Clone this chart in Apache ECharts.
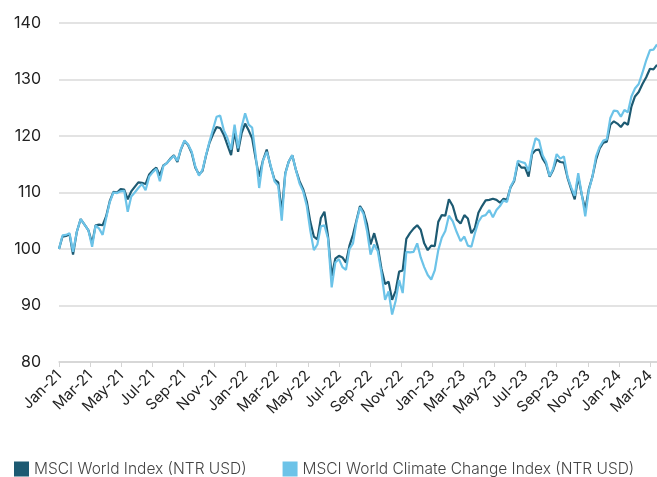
<!DOCTYPE html>
<html>
<head>
<meta charset="utf-8">
<script src="https://cdn.jsdelivr.net/npm/echarts@6/dist/echarts.min.js"></script>
<style>
  html, body { margin: 0; padding: 0; background: #fff; }
  #chart { width: 657px; height: 477px; }
</style>
</head>
<body>
<div id="chart"></div>
<script>
// weekly observations, first one on 2021-01-01
const firstWeek = '2021-01-01';

const tickLabels = ['Jan-21', 'Mar-21', 'May-21', 'Jul-21', 'Sep-21', 'Nov-21',
  'Jan-22', 'Mar-22', 'May-22', 'Jul-22', 'Sep-22', 'Nov-22',
  'Jan-23', 'Mar-23', 'May-23', 'Jul-23', 'Sep-23', 'Nov-23',
  'Jan-24', 'Mar-24'];

const seriesNames = ['MSCI World Index (NTR USD)', 'MSCI World Climate Change Index (NTR USD)'];

const worldIndex = [
  100, 102.2, 102.3, 102.6, 99.0, 103.0, 105.3, 104.3, 103.3, 101.0,
  104.2, 104.3, 104.2, 105.8, 108.5, 110.1, 110.0, 110.6, 110.5, 108.8,
  110.2, 111.0, 111.8, 111.7, 111.5, 113.2, 113.9, 114.4, 113.0, 114.8,
  115.2, 116.0, 116.6, 115.4, 117.6, 119.1, 118.4, 117.0, 114.4, 113.2,
  113.8, 116.5, 118.8, 120.3, 121.6, 121.4, 120.2, 118.4, 116.6, 120.8,
  117.2, 120.5, 122.2, 121.0, 119.6, 116.0, 112.8, 115.6, 117.6, 114.6,
  112.3, 111.8, 106.5, 113.4, 115.5, 116.6, 114.0, 112.0, 110.6, 108.4,
  104.8, 102.2, 101.7, 105.5, 106.6, 102.2, 95.2, 98.3, 98.8, 98.5,
  97.6, 100.6, 102.5, 105.1, 107.6, 106.6, 104.4, 100.8, 102.8, 100.4,
  96.5, 93.8, 94.2, 91.0, 92.6, 96.0, 96.2, 101.8, 102.8, 103.6,
  104.2, 103.4, 101.0, 99.8, 100.6, 100.5, 104.8, 106.0, 105.9, 108.8,
  107.6, 105.2, 104.5, 106.0, 105.4, 102.8, 103.7, 106.4, 107.6, 108.6,
  108.7, 108.9, 108.7, 108.2, 108.9, 108.7, 110.9, 112.0, 115.2, 114.4,
  114.4, 112.8, 116.8, 117.5, 117.6, 116.0, 115.0, 112.8, 114.0, 115.8,
  115.4, 115.3, 112.6, 110.6, 108.8, 112.8, 109.6, 107.0, 110.6, 112.8,
  115.8, 117.8, 118.8, 119.0, 122.0, 122.6, 122.2, 121.6, 122.4, 122.0,
  125.2, 127.0, 127.8, 129.2, 130.4, 131.9, 131.8, 132.6
];

const climateIndex = [
  100, 102.4, 102.5, 102.8, 99.5, 103.0, 105.3, 104.3, 103.3, 100.4,
  104.2, 103.6, 102.5, 105.5, 108.3, 110.0, 109.9, 110.2, 110.3, 106.6,
  109.3, 110.0, 110.8, 111.5, 110.4, 112.8, 113.6, 114.2, 112.0, 114.7,
  115.2, 115.9, 116.5, 115.6, 117.7, 119.2, 118.5, 117.2, 114.6, 113.0,
  114.0, 116.6, 119.0, 121.2, 123.4, 123.6, 121.0, 119.6, 117.6, 122.0,
  117.8, 121.6, 124.0, 122.0, 121.5, 116.6, 110.8, 115.6, 117.2, 114.8,
  112.0, 111.2, 105.0, 113.3, 115.5, 116.6, 114.0, 111.6, 110.2, 107.6,
  103.2, 99.8, 100.8, 104.0, 104.2, 101.8, 93.2, 97.6, 98.2, 96.8,
  96.3, 100.0, 101.0, 104.8, 107.4, 106.2, 103.2, 99.0, 100.8, 99.6,
  95.8, 91.0, 92.5, 88.4, 90.8, 94.5, 92.2, 99.5, 99.4, 99.5,
  101.0, 98.5, 96.8, 95.4, 94.6, 96.2, 99.8, 102.0, 103.2, 105.9,
  104.9, 103.0, 101.4, 102.2, 100.6, 100.4, 102.8, 104.8, 105.8, 106.0,
  106.9, 105.6, 106.9, 107.6, 108.6, 108.3, 111.0, 112.2, 115.6, 115.4,
  115.2, 113.8, 117.2, 119.6, 119.2, 116.6, 115.4, 112.9, 114.2, 116.8,
  116.0, 116.4, 112.8, 110.9, 109.4, 113.4, 109.7, 105.8, 110.4, 112.8,
  116.4, 118.1, 119.2, 119.4, 123.2, 124.5, 124.4, 123.4, 124.6, 124.2,
  127.0, 128.4, 129.2, 131.2, 133.4, 135.2, 135.3, 136.2
];

// date -> months since Jan 2021 (fractional), used as x value
function monthPos(d) {
  const y = d.getUTCFullYear(), m = d.getUTCMonth();
  const days = new Date(Date.UTC(y, m + 1, 0)).getUTCDate();
  return (y - 2021) * 12 + m + (d.getUTCDate() - 1) / days;
}

const start = new Date(firstWeek + 'T00:00:00Z');
const xPos = worldIndex.map((v, i) => monthPos(new Date(start.getTime() + i * 7 * 86400000)));
const xEnd = xPos[xPos.length - 1];

const chart = echarts.init(document.getElementById('chart'));
const font = 'Inter, "Noto Sans", sans-serif';

chart.setOption({
  animation: false,
  grid: { left: 59, right: 0, top: 23, bottom: 115, outerBoundsMode: 'none' },
  legend: {
    left: 9,
    top: 456,
    itemWidth: 15,
    itemHeight: 15,
    itemGap: 36,
    icon: 'rect',
    textStyle: { fontFamily: font, fontSize: 15.5, color: '#444', fontWeight: 300 },
    data: seriesNames
  },
  xAxis: {
    type: 'value',
    min: 0,
    max: xEnd,
    interval: 2,
    axisLine: { show: true, lineStyle: { color: '#d4d4d4', width: 1.5 } },
    axisTick: { show: true, length: 5, lineStyle: { color: '#d4d4d4', width: 1 } },
    splitLine: { show: false },
    axisLabel: {
      rotate: 45,
      margin: 11,
      fontFamily: font,
      fontSize: 15,
      color: '#222',
      hideOverlap: false,
      showMaxLabel: false,
      formatter: v => (Math.abs(v / 2 - Math.round(v / 2)) < 1e-6 ? tickLabels[v / 2] || '' : '')
    }
  },
  yAxis: {
    type: 'value',
    min: 80,
    max: 140,
    interval: 10,
    axisLine: { show: false },
    axisTick: { show: false },
    splitLine: { lineStyle: { color: '#dadada', width: 1.5 } },
    axisLabel: { margin: 18, fontFamily: font, fontSize: 16, color: '#222' }
  },
  series: [
    {
      name: seriesNames[0],
      type: 'line',
      showSymbol: false,
      color: '#1d5a72',
      lineStyle: { width: 2.2 },
      data: worldIndex.map((v, i) => [xPos[i], v])
    },
    {
      name: seriesNames[1],
      type: 'line',
      showSymbol: false,
      color: '#6cc3e8',
      lineStyle: { width: 2.2 },
      data: climateIndex.map((v, i) => [xPos[i], v])
    }
  ]
});
</script>
</body>
</html>
